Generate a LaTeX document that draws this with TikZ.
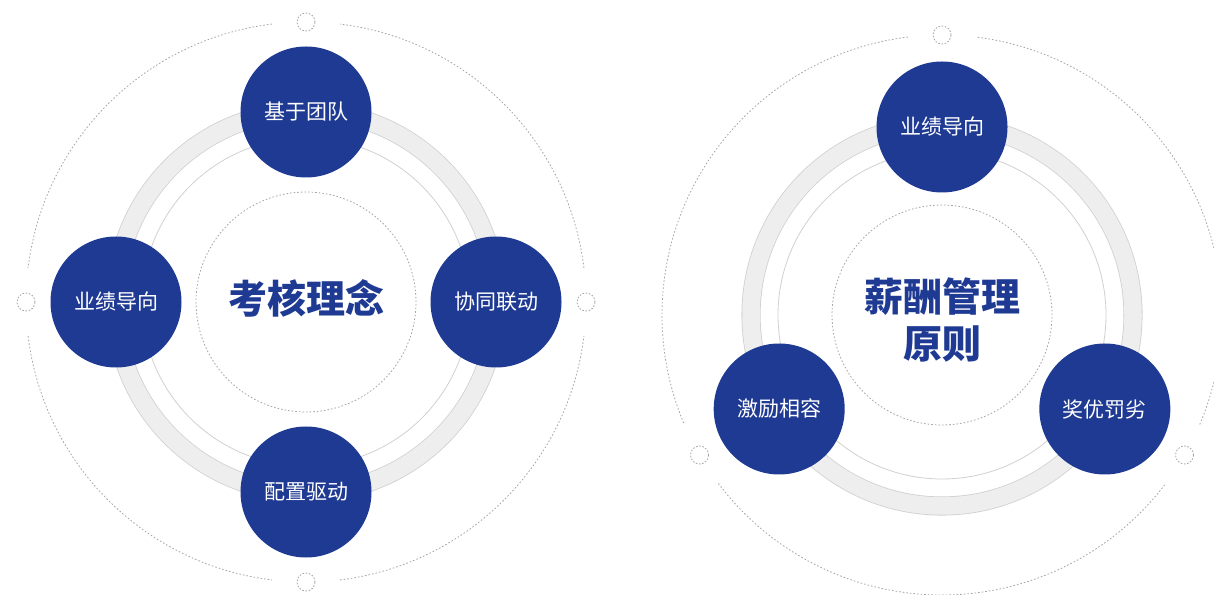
\documentclass[tikz,border=0pt]{standalone}
\usepackage{fontspec}
\setmainfont{Noto Sans CJK SC}
\usetikzlibrary{positioning,calc}
\definecolor{deepblue}{RGB}{31,58,147}
\definecolor{ringfill}{RGB}{238,238,238}
\definecolor{ringedge}{RGB}{208,208,208}
\definecolor{dotgray}{RGB}{165,165,165}

\begin{document}
\begin{tikzpicture}[x=1pt,y=1pt,
  bubble/.style = {shape=circle, fill=deepblue, minimum size=131pt,
    inner sep=0pt, text=white, font=\fontsize{21}{25}\selectfont},
  heading/.style = {align=center, text=deepblue,
    font=\fontsize{39}{47}\selectfont\bfseries},
  band/.style = {draw=ringedge, line width=0.8pt,
    double=ringfill, double distance=17.5pt},
  thinring/.style = {draw=ringedge, line width=0.8pt},
  dotring/.style = {draw=dotgray, line width=0.8pt, dash pattern=on 1.6pt off 2pt},
  knot/.style = {shape=circle, draw=dotgray, fill=white, line width=0.8pt,
    dash pattern=on 1.6pt off 1.6pt, minimum size=18pt, inner sep=0pt}
  ]
  \useasboundingbox (0,0) rectangle (1214,594);

  % left: 考核理念
  \coordinate (kh) at (306,292);
  \foreach \a in {0,90,180,270}
    \draw[dotring] (kh) ++(\a+7:280) arc[start angle=\a+7, end angle=\a+83, radius=280];
  \draw[band] (kh) circle[radius=191];
  \draw[thinring] (kh) circle[radius=164];
  \draw[dotring] (kh) circle[radius=110];
  \foreach \a [count=\i] in {90,180,270,0}
    \node[knot] (kh-knot\i) at ($(kh)+(\a:280)$) {};
  \node[heading] (kh-title) at ($(kh)+(0,4)$) {考核理念};
  \node[bubble] (kh-n) at ($(kh)+(90:190)$) {基于团队};
  \node[bubble] (kh-w) at ($(kh)+(180:190)$) {业绩导向};
  \node[bubble] (kh-e) at ($(kh)+(0:190)$) {协同联动};
  \node[bubble] (kh-s) at ($(kh)+(270:190)$) {配置驱动};

  % right: 薪酬管理原则
  \coordinate (xc) at (942,279);
  \foreach \a in {90,210,330}
    \draw[dotring] (xc) ++(\a+7:280) arc[start angle=\a+7, end angle=\a+113, radius=280];
  \draw[band] (xc) circle[radius=191];
  \draw[thinring] (xc) circle[radius=164];
  \draw[dotring] (xc) circle[radius=110];
  \foreach \a [count=\i] in {90,210,330}
    \node[knot] (xc-knot\i) at ($(xc)+(\a:280)$) {};
  \node[heading] (xc-title) at ($(xc)+(0,-5)$) {薪酬管理\\原则};
  \node[bubble] (xc-n) at ($(xc)+(90:188)$) {业绩导向};
  \node[bubble] (xc-sw) at ($(xc)+(210:188)$) {激励相容};
  \node[bubble] (xc-se) at ($(xc)+(330:188)$) {奖优罚劣};
\end{tikzpicture}
\end{document}
